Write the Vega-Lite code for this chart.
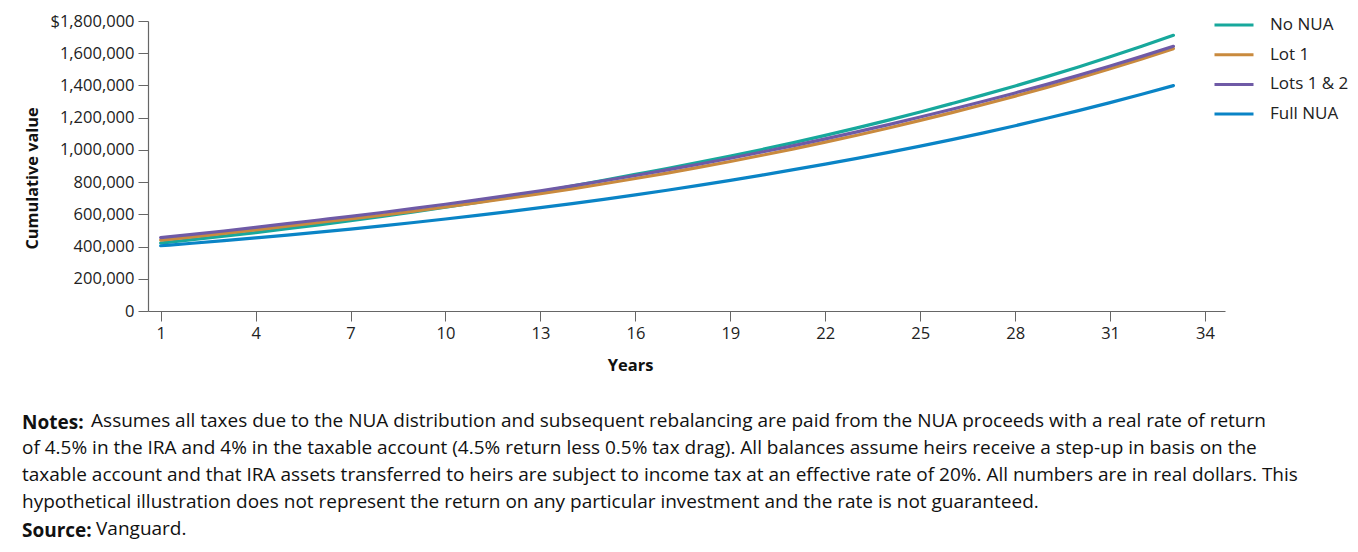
{
  "$schema": "https://vega.github.io/schema/vega-lite/v6.json",
  "width": 1077,
  "height": 290,
  "autosize": "none",
  "padding": {"left": 148, "top": 21, "right": 133, "bottom": 241},
  "background": "white",
  "config": {
    "view": {"stroke": null},
    "font": "Open Sans",
    "axis": {"grid": false, "domainColor": "#666666", "tickColor": "#666666", "labelColor": "#222222", "titleColor": "#111111", "labelFont": "Open Sans", "titleFont": "Open Sans"}
  },
  "title": {
    "text": ["Notes:", "\u200b", "\u200b", "\u200b", "Source:"],
    "subtitle": [
      "\u200b\u00a0\u00a0\u00a0\u00a0\u00a0\u00a0\u00a0\u00a0\u00a0\u00a0\u00a0\u00a0\u00a0\u00a0Assumes all taxes due to the NUA distribution and subsequent rebalancing are paid from the NUA proceeds with a real rate of return",
      "of 4.5% in the IRA and 4% in the taxable account (4.5% return less 0.5% tax drag). All balances assume heirs receive a step-up in basis on the",
      "taxable account and that IRA assets transferred to heirs are subject to income tax at an effective rate of 20%. All numbers are in real dollars. This",
      "hypothetical illustration does not represent the return on any particular investment and the rate is not guaranteed.",
      "\u200b\u00a0\u00a0\u00a0\u00a0\u00a0\u00a0\u00a0\u00a0\u00a0\u00a0\u00a0\u00a0\u00a0\u00a0\u00a0Vanguard."
    ],
    "orient": "bottom",
    "anchor": "start",
    "frame": "group",
    "offset": 40,
    "dx": -126,
    "font": "Open Sans",
    "fontSize": 19,
    "fontWeight": "bold",
    "color": "#111111",
    "lineHeight": 27,
    "limit": 0,
    "subtitleFont": "Open Sans",
    "subtitleFontSize": 19,
    "subtitleFontWeight": "normal",
    "subtitleColor": "#111111",
    "subtitleLineHeight": 27,
    "subtitlePadding": -129.3
  },
  "data": {
    "values": [
      {"year": 1, "series": "No NUA", "value": 422000},
      {"year": 2, "series": "No NUA", "value": 442600},
      {"year": 3, "series": "No NUA", "value": 464300},
      {"year": 4, "series": "No NUA", "value": 487000},
      {"year": 5, "series": "No NUA", "value": 510800},
      {"year": 6, "series": "No NUA", "value": 535100},
      {"year": 7, "series": "No NUA", "value": 560500},
      {"year": 8, "series": "No NUA", "value": 587100},
      {"year": 9, "series": "No NUA", "value": 614900},
      {"year": 10, "series": "No NUA", "value": 644000},
      {"year": 11, "series": "No NUA", "value": 674500},
      {"year": 12, "series": "No NUA", "value": 706500},
      {"year": 13, "series": "No NUA", "value": 740000},
      {"year": 14, "series": "No NUA", "value": 775100},
      {"year": 15, "series": "No NUA", "value": 811800},
      {"year": 16, "series": "No NUA", "value": 848200},
      {"year": 17, "series": "No NUA", "value": 884400},
      {"year": 18, "series": "No NUA", "value": 922100},
      {"year": 19, "series": "No NUA", "value": 961500},
      {"year": 20, "series": "No NUA", "value": 1002500},
      {"year": 21, "series": "No NUA", "value": 1045300},
      {"year": 22, "series": "No NUA", "value": 1089900},
      {"year": 23, "series": "No NUA", "value": 1136400},
      {"year": 24, "series": "No NUA", "value": 1184900},
      {"year": 25, "series": "No NUA", "value": 1235400},
      {"year": 26, "series": "No NUA", "value": 1287800},
      {"year": 27, "series": "No NUA", "value": 1341200},
      {"year": 28, "series": "No NUA", "value": 1396700},
      {"year": 29, "series": "No NUA", "value": 1454600},
      {"year": 30, "series": "No NUA", "value": 1514900},
      {"year": 31, "series": "No NUA", "value": 1577700},
      {"year": 32, "series": "No NUA", "value": 1643000},
      {"year": 33, "series": "No NUA", "value": 1711100},
      {"year": 1, "series": "Lot 1", "value": 440000},
      {"year": 2, "series": "Lot 1", "value": 460300},
      {"year": 3, "series": "Lot 1", "value": 481500},
      {"year": 4, "series": "Lot 1", "value": 503700},
      {"year": 5, "series": "Lot 1", "value": 526900},
      {"year": 6, "series": "Lot 1", "value": 549400},
      {"year": 7, "series": "Lot 1", "value": 572000},
      {"year": 8, "series": "Lot 1", "value": 595500},
      {"year": 9, "series": "Lot 1", "value": 620000},
      {"year": 10, "series": "Lot 1", "value": 645500},
      {"year": 11, "series": "Lot 1", "value": 672000},
      {"year": 12, "series": "Lot 1", "value": 699700},
      {"year": 13, "series": "Lot 1", "value": 728400},
      {"year": 14, "series": "Lot 1", "value": 758400},
      {"year": 15, "series": "Lot 1", "value": 789600},
      {"year": 16, "series": "Lot 1", "value": 822200},
      {"year": 17, "series": "Lot 1", "value": 856100},
      {"year": 18, "series": "Lot 1", "value": 891400},
      {"year": 19, "series": "Lot 1", "value": 928200},
      {"year": 20, "series": "Lot 1", "value": 966500},
      {"year": 21, "series": "Lot 1", "value": 1006400},
      {"year": 22, "series": "Lot 1", "value": 1047900},
      {"year": 23, "series": "Lot 1", "value": 1091100},
      {"year": 24, "series": "Lot 1", "value": 1136100},
      {"year": 25, "series": "Lot 1", "value": 1183000},
      {"year": 26, "series": "Lot 1", "value": 1231600},
      {"year": 27, "series": "Lot 1", "value": 1281700},
      {"year": 28, "series": "Lot 1", "value": 1333800},
      {"year": 29, "series": "Lot 1", "value": 1388100},
      {"year": 30, "series": "Lot 1", "value": 1444600},
      {"year": 31, "series": "Lot 1", "value": 1503400},
      {"year": 32, "series": "Lot 1", "value": 1564500},
      {"year": 33, "series": "Lot 1", "value": 1628200},
      {"year": 1, "series": "Lots 1 & 2", "value": 455000},
      {"year": 2, "series": "Lots 1 & 2", "value": 475300},
      {"year": 3, "series": "Lots 1 & 2", "value": 496600},
      {"year": 4, "series": "Lots 1 & 2", "value": 518800},
      {"year": 5, "series": "Lots 1 & 2", "value": 541900},
      {"year": 6, "series": "Lots 1 & 2", "value": 564700},
      {"year": 7, "series": "Lots 1 & 2", "value": 587700},
      {"year": 8, "series": "Lots 1 & 2", "value": 611600},
      {"year": 9, "series": "Lots 1 & 2", "value": 636500},
      {"year": 10, "series": "Lots 1 & 2", "value": 662400},
      {"year": 11, "series": "Lots 1 & 2", "value": 689300},
      {"year": 12, "series": "Lots 1 & 2", "value": 717400},
      {"year": 13, "series": "Lots 1 & 2", "value": 746600},
      {"year": 14, "series": "Lots 1 & 2", "value": 776900},
      {"year": 15, "series": "Lots 1 & 2", "value": 808500},
      {"year": 16, "series": "Lots 1 & 2", "value": 841300},
      {"year": 17, "series": "Lots 1 & 2", "value": 875500},
      {"year": 18, "series": "Lots 1 & 2", "value": 911000},
      {"year": 19, "series": "Lots 1 & 2", "value": 948100},
      {"year": 20, "series": "Lots 1 & 2", "value": 986600},
      {"year": 21, "series": "Lots 1 & 2", "value": 1026700},
      {"year": 22, "series": "Lots 1 & 2", "value": 1068400},
      {"year": 23, "series": "Lots 1 & 2", "value": 1111800},
      {"year": 24, "series": "Lots 1 & 2", "value": 1157000},
      {"year": 25, "series": "Lots 1 & 2", "value": 1204000},
      {"year": 26, "series": "Lots 1 & 2", "value": 1252500},
      {"year": 27, "series": "Lots 1 & 2", "value": 1302000},
      {"year": 28, "series": "Lots 1 & 2", "value": 1353500},
      {"year": 29, "series": "Lots 1 & 2", "value": 1406900},
      {"year": 30, "series": "Lots 1 & 2", "value": 1462500},
      {"year": 31, "series": "Lots 1 & 2", "value": 1520300},
      {"year": 32, "series": "Lots 1 & 2", "value": 1580400},
      {"year": 33, "series": "Lots 1 & 2", "value": 1642900},
      {"year": 1, "series": "Full NUA", "value": 405000},
      {"year": 2, "series": "Full NUA", "value": 420600},
      {"year": 3, "series": "Full NUA", "value": 436700},
      {"year": 4, "series": "Full NUA", "value": 453500},
      {"year": 5, "series": "Full NUA", "value": 470900},
      {"year": 6, "series": "Full NUA", "value": 489300},
      {"year": 7, "series": "Full NUA", "value": 508600},
      {"year": 8, "series": "Full NUA", "value": 528600},
      {"year": 9, "series": "Full NUA", "value": 549400},
      {"year": 10, "series": "Full NUA", "value": 571100},
      {"year": 11, "series": "Full NUA", "value": 593600},
      {"year": 12, "series": "Full NUA", "value": 616900},
      {"year": 13, "series": "Full NUA", "value": 641200},
      {"year": 14, "series": "Full NUA", "value": 666500},
      {"year": 15, "series": "Full NUA", "value": 692700},
      {"year": 16, "series": "Full NUA", "value": 720300},
      {"year": 17, "series": "Full NUA", "value": 749400},
      {"year": 18, "series": "Full NUA", "value": 779600},
      {"year": 19, "series": "Full NUA", "value": 811100},
      {"year": 20, "series": "Full NUA", "value": 843800},
      {"year": 21, "series": "Full NUA", "value": 877400},
      {"year": 22, "series": "Full NUA", "value": 911800},
      {"year": 23, "series": "Full NUA", "value": 947500},
      {"year": 24, "series": "Full NUA", "value": 984600},
      {"year": 25, "series": "Full NUA", "value": 1023200},
      {"year": 26, "series": "Full NUA", "value": 1063400},
      {"year": 27, "series": "Full NUA", "value": 1105900},
      {"year": 28, "series": "Full NUA", "value": 1150100},
      {"year": 29, "series": "Full NUA", "value": 1196100},
      {"year": 30, "series": "Full NUA", "value": 1243900},
      {"year": 31, "series": "Full NUA", "value": 1293600},
      {"year": 32, "series": "Full NUA", "value": 1345300},
      {"year": 33, "series": "Full NUA", "value": 1399100}
    ]
  },
  "mark": {"type": "line", "strokeWidth": 3.2, "strokeCap": "round", "interpolate": "monotone"},
  "encoding": {
    "x": {
      "field": "year", "type": "quantitative",
      "scale": {"domain": [0.6, 34.63], "nice": false, "zero": false},
      "axis": {
        "values": [1, 4, 7, 10, 13, 16, 19, 22, 25, 28, 31, 34],
        "title": "Years", "titleFontSize": 16.5, "titleFontWeight": "bold",
        "titlePadding": 16, "titleX": 482,
        "labelFontSize": 16.5, "labelPadding": 4, "tickSize": 10, "tickWidth": 1, "domainWidth": 1.2
      }
    },
    "y": {
      "field": "value", "type": "quantitative",
      "scale": {"domain": [0, 1800000], "nice": false},
      "axis": {
        "values": [0, 200000, 400000, 600000, 800000, 1000000, 1200000, 1400000, 1600000, 1800000],
        "labelExpr": "datum.value == 1800000 ? '$1,800,000' : format(datum.value, ',')",
        "title": "Cumulative value", "titleFontSize": 16.3, "titleFontWeight": "bold",
        "titlePadding": 9, "titleY": 157,
        "labelFontSize": 16.5, "labelPadding": 4, "tickSize": 10, "tickWidth": 1, "domainWidth": 1.2
      }
    },
    "color": {
      "field": "series", "type": "nominal",
      "sort": ["No NUA", "Lot 1", "Lots 1 & 2", "Full NUA"],
      "scale": {"domain": ["No NUA", "Lot 1", "Lots 1 & 2", "Full NUA"], "range": ["#17A89C", "#C98A3E", "#6F5AA6", "#0A84C6"]},
      "legend": {
        "title": null, "orient": "none", "legendX": 1065, "legendY": -17,
        "symbolType": "stroke", "symbolSize": 1521, "symbolStrokeWidth": 3,
        "labelFontSize": 17, "labelFont": "Open Sans", "labelColor": "#222222", "labelOffset": 15,
        "rowPadding": 0.7
      }
    },
    "order": {"field": "series"}
  }
}
